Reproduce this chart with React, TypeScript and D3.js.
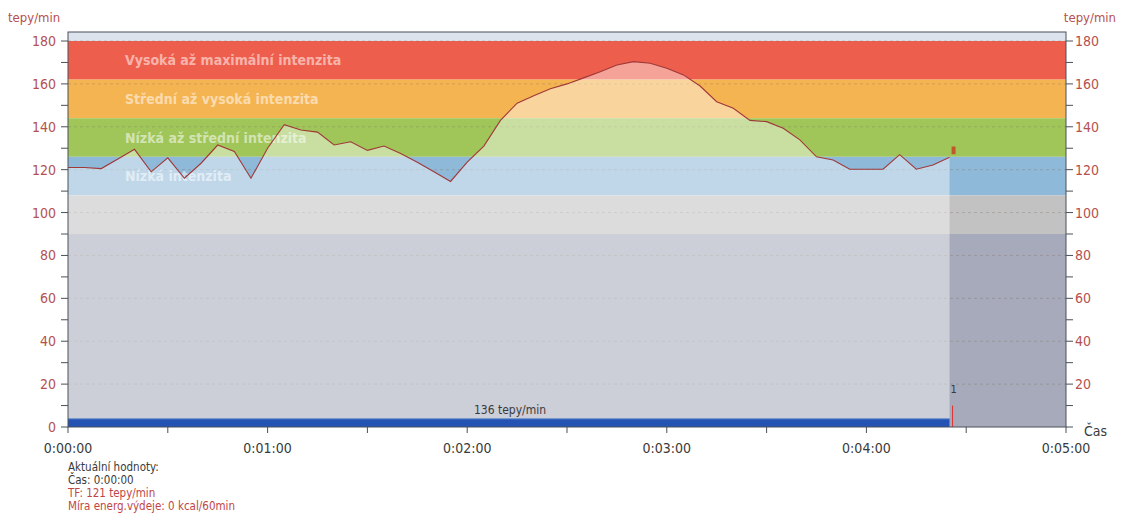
import React from "react";
import * as d3 from "d3";

// ---- data ----
const timeSec = [0, 5, 10, 15, 20, 25, 30, 35, 40, 45, 50, 55, 60, 65, 70, 75, 80, 85, 90, 95, 100, 105, 110, 115, 120, 125, 130, 135, 140, 145, 150, 155, 160, 165, 170, 175, 180, 185, 190, 195, 200, 205, 210, 215, 220, 225, 230, 235, 240, 245, 250, 255, 260, 265];
const heartRate = [121, 121, 120.5, 125, 129.5, 119, 125.5, 116, 123, 131.5, 128.5, 116, 130, 141, 138.5, 137.5, 131.5, 133, 129, 131, 127.5, 123.5, 119, 114.5, 123.5, 131, 143, 151, 154.5, 157.7, 160, 162.8, 165.7, 168.8, 170.4, 169.6, 167.3, 164.2, 159, 151.7, 148.6, 143, 142.4, 139.3, 133.9, 126, 124.5, 120.2, 120.2, 120.2, 127, 120.2, 122.2, 125.8];

const zoneNames = ["", "Vysoká až maximální intenzita", "Střední až vysoká intenzita", "Nízká až střední intenzita", "Nízká intenzita", "", ""];
const zoneLow = [180, 162, 144, 126, 108, 90, 0];
const zoneHigh = [184.2, 180, 162, 144, 126, 108, 90];
const zoneColors = ["#dde3ec", "#ee5e4c", "#f5b452", "#a0c65a", "#8fb9d9", "#c2c2c2", "#a6aabb"];

const yTicks = [0, 20, 40, 60, 80, 100, 120, 140, 160, 180];
const yMinorTicks = [10, 30, 50, 70, 90, 110, 130, 150, 170];
const xTickSec = [0, 30, 60, 90, 120, 150, 180, 210, 240, 270, 300];
const xLabelSec = [0, 60, 120, 180, 240, 300];

const cursorSec = 265;
const markerValue = 129;
const averageLabel = "136 tepy/min";
const averageBarValue = 3.8;
const cursorLabel = "1";
const footerLines = ["Aktuální hodnoty:", "Čas: 0:00:00", "TF: 121 tepy/min", "Míra energ.výdeje: 0 kcal/60min"];
const footerColors = ["#3a3a3a", "#3a3a3a", "#c04545", "#c04545"];

const FONT = "'DejaVu Sans', sans-serif";

function fmtTime(s: number) {
  const m = Math.floor(s / 60);
  const ss = s % 60;
  return `0:${String(m).padStart(2, "0")}:${String(ss).padStart(2, "0")}`;
}

export default function App() {
  const W = 1122, H = 527;
  const x = d3.scaleLinear().domain([0, 300]).range([68, 1066]);
  const y = d3.scaleLinear().domain([0, 184.2]).range([427, 32]);
  const pts = timeSec.map((t, i) => [t, heartRate[i]] as [number, number]);
  const area = d3.area<[number, number]>().x(d => x(d[0])).y0(y(0)).y1(d => y(d[1]));
  const line = d3.line<[number, number]>().x(d => x(d[0])).y(d => y(d[1]));
  const left = x(0), right = x(300), top = y(184.2), bottom = y(0);
  const axisColor = "#4a5058";
  const yLabelColor = "#b55050";
  const xLabelColor = "#3a3a3a";

  return (
    <svg width={W} height={H} style={{ position: "absolute", left: 0, top: 0, background: "#fff", fontFamily: FONT, fontStretch: "condensed" }}>
      {/* zones */}
      {zoneLow.map((lo, i) => (
        <rect key={"z" + i} x={left} width={right - left} y={y(zoneHigh[i])} height={y(lo) - y(zoneHigh[i])} fill={zoneColors[i]} />
      ))}
      {/* grid */}
      {yTicks.filter(v => v > 0).map(v => (
        <line key={"g" + v} x1={left} x2={right} y1={y(v)} y2={y(v)} stroke="#7a6a5a" strokeOpacity={0.3} strokeDasharray="3,3" />
      ))}
      {/* zone labels */}
      {zoneNames.map((n, i) => n ? (
        <text key={"zl" + i} x={125} y={(y(zoneLow[i]) + y(zoneHigh[i])) / 2 + 5} fill="#ffffff" fillOpacity={0.55} fontWeight="bold" fontSize={14}>{n}</text>
      ) : null)}
      {/* pale area under curve */}
      <path d={area(pts) || ""} fill="#ffffff" fillOpacity={0.43} />
      <path d={line(pts) || ""} fill="none" stroke="#a03838" strokeWidth={1.1} />
      {/* average bar */}
      <rect x={left} y={y(averageBarValue)} width={x(timeSec[timeSec.length - 1]) - left} height={bottom - y(averageBarValue)} fill="#2553b3" />
      <line x1={left} x2={x(timeSec[timeSec.length - 1])} y1={y(averageBarValue)} y2={y(averageBarValue)} stroke="#5a86cc" strokeWidth={1} />
      <text x={510} y={414} textAnchor="middle" fontSize={12} fill="#3a3a3a">{averageLabel}</text>
      {/* cursor */}
      <rect x={x(cursorSec) + 2} y={y(markerValue + 1.8)} width={4} height={y(markerValue - 1.8) - y(markerValue + 1.8)} fill="#c0582a" />
      <line x1={x(cursorSec) + 3} x2={x(cursorSec) + 3} y1={y(10)} y2={bottom} stroke="#e03030" strokeWidth={1} />
      <text x={x(cursorSec) + 1} y={y(16)} fontSize={11} fill="#3a3a3a">{cursorLabel}</text>
      {/* frame */}
      <rect x={left} y={top} width={right - left} height={bottom - top} fill="none" stroke={axisColor} strokeWidth={1} />
      {/* left axis */}
      {yTicks.map(v => (
        <g key={"yl" + v}>
          <line x1={left - 7} x2={left} y1={y(v)} y2={y(v)} stroke={axisColor} />
          <text x={left - 12} y={y(v) + 5} textAnchor="end" fontSize={14} fill={yLabelColor}>{v}</text>
          <line x1={right} x2={right + 7} y1={y(v)} y2={y(v)} stroke={axisColor} />
          {v > 0 ? <text x={right + 9} y={y(v) + 5} fontSize={14} fill={yLabelColor}>{v}</text> : null}
        </g>
      ))}
      {yMinorTicks.map(v => (
        <g key={"ym" + v}>
          <line x1={left - 7} x2={left} y1={y(v)} y2={y(v)} stroke={axisColor} />
          <line x1={right} x2={right + 7} y1={y(v)} y2={y(v)} stroke={axisColor} />
        </g>
      ))}
      <text x={8} y={22} fontSize={13} fill={yLabelColor}>tepy/min</text>
      <text x={1116} y={22} fontSize={13} fill={yLabelColor} textAnchor="end">tepy/min</text>
      {/* x axis */}
      {xTickSec.map(s => (
        <line key={"xt" + s} x1={x(s)} x2={x(s)} y1={bottom} y2={bottom + 6} stroke={axisColor} />
      ))}
      {xLabelSec.map(s => (
        <text key={"xl" + s} x={x(s)} y={453} textAnchor="middle" fontSize={14} fill={xLabelColor}>{fmtTime(s)}</text>
      ))}
      <text x={1084} y={436} fontSize={14} fill={xLabelColor}>Čas</text>
      {/* footer */}
      {footerLines.map((t, i) => (
        <text key={"f" + i} x={68} y={471 + i * 13} fontSize={11.5} fill={footerColors[i]}>{t}</text>
      ))}
    </svg>
  );
}
